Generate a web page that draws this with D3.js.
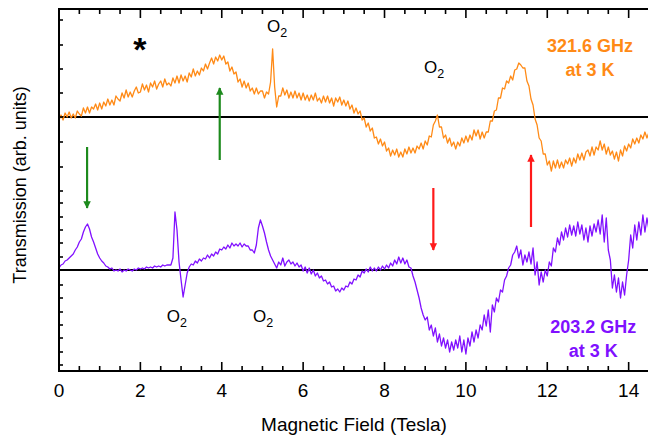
<!DOCTYPE html>
<html>
<head>
<meta charset="utf-8">
<script src="https://cdn.jsdelivr.net/npm/d3@7"></script>
<style>
  body { margin: 0; background: #fff; }
  svg text { font-family: "Liberation Sans", Arial, sans-serif; }
</style>
</head>
<body>
<div id="chart"></div>
<script>
// --- Data (arb. units relative to each trace's baseline) ---
const fieldStep = 0.05; // Tesla, spacing of the samples below
const fieldStart = 0;

const orange321 = [
  -3,2,-3,4,0,5,-1,3,-1,6,3,1,9,4,10,4,10,8,13,7,
  14,8,15,11,18,12,17,12,21,18,16,24,19,27,20,25,20,26,30,24,
  25,33,27,32,25,34,30,36,28,33,36,30,38,32,34,31,39,34,41,34,
  42,36,41,35,44,40,48,41,46,42,49,46,53,48,54,59,53,60,56,62,
  57,61,53,55,46,50,43,45,35,38,30,36,29,34,26,29,23,29,23,26,
  26,19,25,23,35,68,30,10,21,21,29,22,27,19,25,19,26,19,24,17,
  24,17,22,16,22,17,24,16,19,14,21,15,21,14,19,11,19,15,20,12,
  17,11,16,8,12,4,9,3,6,-3,-1,-10,-6,-14,-11,-21,-20,-27,-22,-29,
  -25,-34,-31,-39,-33,-38,-32,-40,-35,-40,-32,-37,-30,-36,-31,-36,-29,-32,-26,-32,
  -24,-28,-19,-20,-8,-4,2,-10,-10,-21,-18,-26,-21,-29,-25,-32,-25,-29,-21,-26,
  -19,-25,-18,-23,-13,-19,-13,-22,-15,-21,-15,-15,-4,-4,6,7,19,19,29,28,
  36,34,41,37,47,48,54,52,49,49,36,31,18,12,-2,-8,-21,-24,-37,-37,
  -48,-44,-54,-44,-51,-43,-51,-45,-51,-43,-47,-41,-49,-41,-46,-37,-43,-36,-43,-35,
  -33,-39,-30,-38,-30,-33,-24,-33,-27,-37,-30,-38,-34,-42,-35,-44,-33,-39,-29,-34,
  -27,-31,-22,-27,-21,-26,-18,-22,-15,-21,-15
];

const purple203 = [
  2,5,6,9,10,12,14,16,20,23,28,31,38,43,46,41,33,28,22,16,
  12,9,7,4,3,1,2,-1,0,-1,1,-2,0,-1,1,0,-1,1,0,2,
  1,2,1,3,2,3,2,4,3,4,3,5,4,5,5,5,12,58,40,8,
  -10,-27,-15,-3,3,6,5,9,7,11,9,12,11,15,12,16,14,18,16,21,
  20,23,21,25,22,27,24,26,24,27,23,26,24,24,20,20,17,25,42,50,
  44,37,28,20,14,10,6,2,8,5,12,4,8,10,6,8,4,7,3,5,
  -1,3,-3,2,-4,0,-6,-3,-8,-6,-11,-10,-14,-12,-17,-16,-21,-19,-22,-18,
  -20,-16,-17,-12,-14,-9,-10,-5,-7,-1,-3,1,-2,3,-1,2,-1,3,0,4,
  1,5,2,7,4,10,6,13,7,12,6,10,3,2,-6,-12,-20,-28,-38,-45,
  -50,-47,-60,-55,-66,-58,-72,-64,-76,-68,-78,-70,-82,-72,-80,-70,-78,-66,-82,-70,
  -84,-68,-76,-62,-72,-60,-68,-55,-60,-45,-56,-40,-62,-35,-42,-28,-32,-20,-22,-10,
  -6,2,5,15,18,24,12,20,5,15,8,18,6,22,-5,8,-15,-2,-12,0,
  -6,8,4,22,18,32,25,38,30,42,33,45,35,44,34,48,36,45,30,42,
  28,44,34,46,38,50,36,55,28,52,20,10,-18,-5,-22,-8,-28,-12,-25,-5,
  10,35,22,45,30,48,35,55,38,52,40
];

// trace offsets (baseline position on the arb. unit axis)
const orangeOffset = 254;
const purpleOffset = 101;

// arrows: [field, from, to] in arb. units
const greenArrows = [[0.69, 224, 163], [3.95, 211, 283]];
const redArrows = [[9.2, 183, 121], [11.6, 144, 216]];

// tick values
const xMajorTicks = [0, 2, 4, 6, 8, 10, 12, 14];
const xMinorTicks = [0.5, 1, 1.5, 2.5, 3, 3.5, 4.5, 5, 5.5, 6.5, 7, 7.5, 8.5, 9, 9.5, 10.5, 11, 11.5, 12.5, 13, 13.5, 14.5];
const yTicks = [351, 326, 302, 278, 254, 229, 204, 180, 168, 154, 141, 128, 114, 101, 86, 73, 59, 46, 33, 19, 6];

// O2 labels [field, arb. value]
const o2Labels = [[5.11, 339], [8.97, 298], [2.65, 49], [4.77, 49]];

// --- Layout ---
const width = 648, height = 437;
const margin = { top: 9, right: -1, bottom: 66, left: 59 };
const innerW = width - margin.left - margin.right;
const innerH = height - margin.top - margin.bottom;

const svg = d3.select("#chart")
  .append("svg")
  .attr("width", width)
  .attr("height", height);

const x = d3.scaleLinear().domain([0, 14.5]).range([margin.left, margin.left + innerW]);
const y = d3.scaleLinear().domain([0, 362]).range([margin.top + innerH, margin.top]);

const orangeColor = "#ff8a16";
const purpleColor = "#8010ff";

const defs = svg.append("defs");
[["green", "#1d8a1d"], ["red", "#ff1a1a"]].forEach(([id, c]) => {
  defs.append("marker")
    .attr("id", "head-" + id)
    .attr("viewBox", "0 0 10 10")
    .attr("refX", 9).attr("refY", 5)
    .attr("markerWidth", 3.4).attr("markerHeight", 4.2)
    .attr("markerUnits", "strokeWidth")
    .attr("orient", "auto")
    .append("path")
    .attr("d", "M0,0 L10,5 L0,10 Z")
    .attr("fill", c);
});

// --- Baselines ---
[orangeOffset, purpleOffset].forEach(v => {
  svg.append("line")
    .attr("x1", x(0)).attr("x2", x(14.5))
    .attr("y1", y(v)).attr("y2", y(v))
    .attr("stroke", "#000").attr("stroke-width", 1.8);
});

// --- Traces ---
const line = offset => d3.line()
  .x((d, i) => x(fieldStart + i * fieldStep))
  .y(d => y(d + offset));

svg.append("path")
  .datum(orange321)
  .attr("d", line(orangeOffset))
  .attr("fill", "none")
  .attr("stroke", orangeColor)
  .attr("stroke-width", 1.3)
  .attr("stroke-linejoin", "round");

svg.append("path")
  .datum(purple203)
  .attr("d", line(purpleOffset))
  .attr("fill", "none")
  .attr("stroke", purpleColor)
  .attr("stroke-width", 1.3)
  .attr("stroke-linejoin", "round");

// --- Arrows ---
const drawArrows = (arr, color, id) => {
  svg.selectAll(".arrow-" + id)
    .data(arr)
    .enter()
    .append("line")
    .attr("class", "arrow-" + id)
    .attr("x1", d => x(d[0])).attr("x2", d => x(d[0]))
    .attr("y1", d => y(d[1])).attr("y2", d => y(d[2]))
    .attr("stroke", color)
    .attr("stroke-width", 2.2)
    .attr("marker-end", `url(#head-${id})`);
};
drawArrows(greenArrows, "#1d8a1d", "green");
drawArrows(redArrows, "#ff1a1a", "red");

// --- Frame and ticks ---
svg.append("rect")
  .attr("x", margin.left).attr("y", margin.top)
  .attr("width", innerW).attr("height", innerH)
  .attr("fill", "none").attr("stroke", "#000").attr("stroke-width", 2);

const bottomY = margin.top + innerH, topY = margin.top;
const tickG = svg.append("g").attr("stroke", "#000").attr("stroke-width", 1.6);
xMajorTicks.forEach(t => {
  tickG.append("line").attr("x1", x(t)).attr("x2", x(t)).attr("y1", bottomY).attr("y2", bottomY - 9);
  tickG.append("line").attr("x1", x(t)).attr("x2", x(t)).attr("y1", topY).attr("y2", topY + 9);
});
xMinorTicks.forEach(t => {
  tickG.append("line").attr("x1", x(t)).attr("x2", x(t)).attr("y1", bottomY).attr("y2", bottomY - 5);
  tickG.append("line").attr("x1", x(t)).attr("x2", x(t)).attr("y1", topY).attr("y2", topY + 5);
});
yTicks.forEach(t => {
  tickG.append("line").attr("x1", margin.left).attr("x2", margin.left + 4).attr("y1", y(t)).attr("y2", y(t));
});

svg.selectAll(".xlabel")
  .data(xMajorTicks)
  .enter()
  .append("text")
  .attr("x", d => x(d))
  .attr("y", bottomY + 26)
  .attr("text-anchor", "middle")
  .style("font-size", "19px")
  .text(d => d);

// --- Axis titles ---
svg.append("text")
  .attr("x", 354)
  .attr("y", 431)
  .attr("text-anchor", "middle")
  .style("font-size", "19px")
  .text("Magnetic Field (Tesla)");

svg.append("text")
  .attr("transform", "rotate(-90)")
  .attr("x", -185)
  .attr("y", 26)
  .attr("text-anchor", "middle")
  .style("font-size", "18px")
  .text("Transmission (arb. units)");

// --- Annotations ---
svg.append("text")
  .attr("x", x(1.99)).attr("y", y(310))
  .attr("text-anchor", "middle")
  .style("font-size", "34px")
  .style("font-weight", "bold")
  .text("*");

o2Labels.forEach(([f, v]) => {
  const t = svg.append("text")
    .attr("x", x(f)).attr("y", y(v))
    .style("font-size", "17px");
  t.append("tspan").text("O");
  t.append("tspan").attr("dy", 5).style("font-size", "12.5px").text("2");
});

const freqLabel = (lines, color, f, v) => {
  lines.forEach((s, i) => {
    svg.append("text")
      .attr("x", x(f)).attr("y", y(v) + i * 23.5)
      .attr("text-anchor", "middle")
      .attr("fill", color)
      .style("font-size", "18px")
      .style("font-weight", "bold")
      .text(s);
  });
};
freqLabel(["321.6 GHz", "at 3 K"], orangeColor, 13.05, 319);
freqLabel(["203.2 GHz", "at 3 K"], purpleColor, 13.13, 38);
</script>
</body>
</html>
